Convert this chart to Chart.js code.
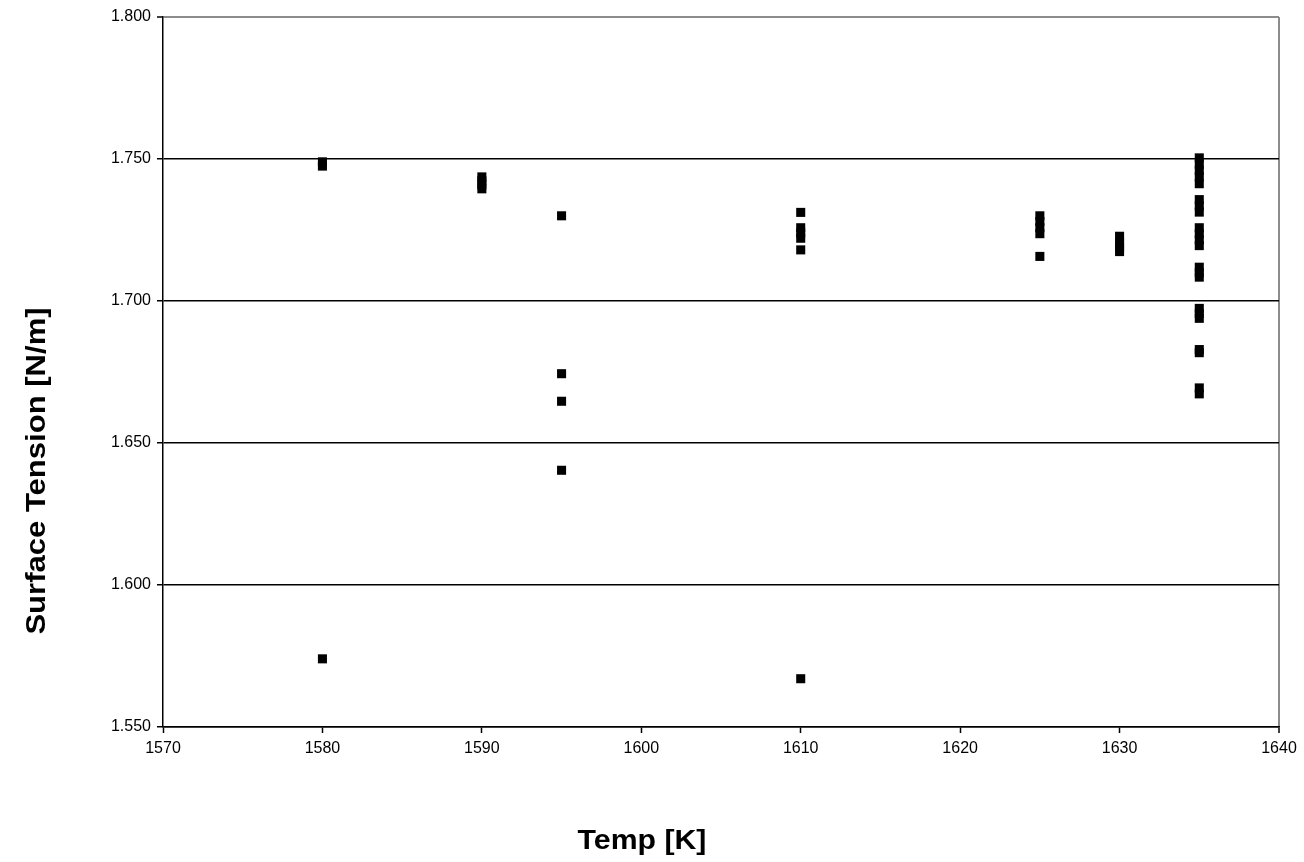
<!DOCTYPE html>
<html>
<head>
<meta charset="utf-8">
<title>Surface Tension vs Temp</title>
<script src="https://cdn.jsdelivr.net/npm/chart.js@4.4.0/dist/chart.umd.min.js"></script>
<style>
  html, body { margin: 0; padding: 0; background: #fff; }
  #wrap { width: 1304px; height: 862px; position: relative; }
</style>
</head>
<body>
<div id="wrap"><canvas id="chart"></canvas></div>
<script>
// measured temperatures and surface tension readings [N/m]
const temps = [1580, 1590, 1595, 1610, 1625, 1630, 1635];
const st1580 = [1.749, 1.7475, 1.574];
const st1590 = [1.7437, 1.7423, 1.7409, 1.7395];
const st1595 = [1.730, 1.6744, 1.6647, 1.6404];
const st1610 = [1.7312, 1.7258, 1.7240, 1.7221, 1.7180, 1.567];
const st1625 = [1.7300, 1.7280, 1.7258, 1.7237, 1.7157];
const st1630 = [1.7228, 1.7205, 1.7190, 1.7174];
const st1635 = [1.7504, 1.7482, 1.7460, 1.7437, 1.7413, 1.7357, 1.7335, 1.7313,
                1.7258, 1.7237, 1.7216, 1.7195, 1.7119, 1.7100, 1.7084,
                1.6974, 1.6956, 1.6939, 1.6829, 1.6818, 1.6694, 1.6673];
const readings = [st1580, st1590, st1595, st1610, st1625, st1630, st1635];

// axis ranges / tick steps
const xMin = 1570, xMax = 1640, xStep = 10;
const yMin = 1.55, yMax = 1.80, yStep = 0.05;

const xTitle = "Temp [K]";
const yTitle = "Surface Tension [N/m]";

const points = [];
temps.forEach((t, i) => {
  readings[i].forEach(v => points.push({x: t, y: v}));
});

const FONT = "'Liberation Sans', Arial, Helvetica, sans-serif";

// draw the two bold axis titles (slightly stretched like the original)
const titlePlugin = {
  id: "titles",
  afterDraw(chart){
    const ctx = chart.ctx;
    ctx.save();
    ctx.fillStyle = "#000";
    ctx.font = "bold 27px " + FONT;
    ctx.textAlign = "center";
    ctx.textBaseline = "alphabetic";
    // x title
    ctx.save();
    ctx.translate(642, 849);
    ctx.scale(1.12, 1);
    ctx.fillText(xTitle, 0, 0);
    ctx.restore();
    // y title
    ctx.save();
    ctx.translate(45, 471);
    ctx.rotate(-Math.PI/2);
    ctx.scale(1.15, 1);
    ctx.fillText(yTitle, 0, 0);
    ctx.restore();
    ctx.restore();
  }
};

const isTop = c => c.tick && Math.abs(c.tick.value - yMax) < 1e-9;

const ctx = document.getElementById("chart").getContext("2d");
new Chart(ctx, {
  type: "scatter",
  data: {
    datasets: [{
      label: "Surface Tension",
      data: points,
      pointStyle: "rect",
      pointRadius: 6.4,
      pointHoverRadius: 6.4,
      pointBorderWidth: 0,
      backgroundColor: "#000",
      borderColor: "#000"
    }]
  },
  options: {
    responsive: true,
    maintainAspectRatio: false,
    animation: false,
    events: [],
    layout: { padding: { left: 0, top: 17, right: 25, bottom: 0 } },
    plugins: {
      legend: { display: false },
      tooltip: { enabled: false }
    },
    scales: {
      x: {
        type: "linear",
        min: xMin, max: xMax,
        afterFit(scale){ scale.height = 135; },
        ticks: {
          stepSize: xStep,
          color: "#000",
          font: { family: FONT, size: 16 },
          padding: 6,
          maxRotation: 0,
          callback: v => String(v)
        },
        grid: {
          drawOnChartArea: true,
          color: c => (c.tick && c.tick.value === xMax) ? "#8c8c8c" : "rgba(0,0,0,0)",
          lineWidth: c => (c.tick && c.tick.value === xMax) ? 2 : 1,
          tickColor: "#000",
          tickLength: 6,
          tickWidth: 1.5
        },
        border: { color: "#000", width: 1.5 }
      },
      y: {
        type: "linear",
        min: yMin, max: yMax,
        afterFit(scale){ scale.width = 163; },
        ticks: {
          stepSize: yStep,
          color: "#000",
          font: { family: FONT, size: 16 },
          padding: 6,
          callback: v => Number(v).toFixed(3)
        },
        grid: {
          color: c => isTop(c) ? "#8c8c8c" : "#000",
          lineWidth: c => isTop(c) ? 2 : 1.5,
          tickColor: "#000",
          tickLength: 6,
          tickWidth: 1.5
        },
        border: { color: "#000", width: 1.5 }
      }
    }
  },
  plugins: [titlePlugin]
});
</script>
</body>
</html>
